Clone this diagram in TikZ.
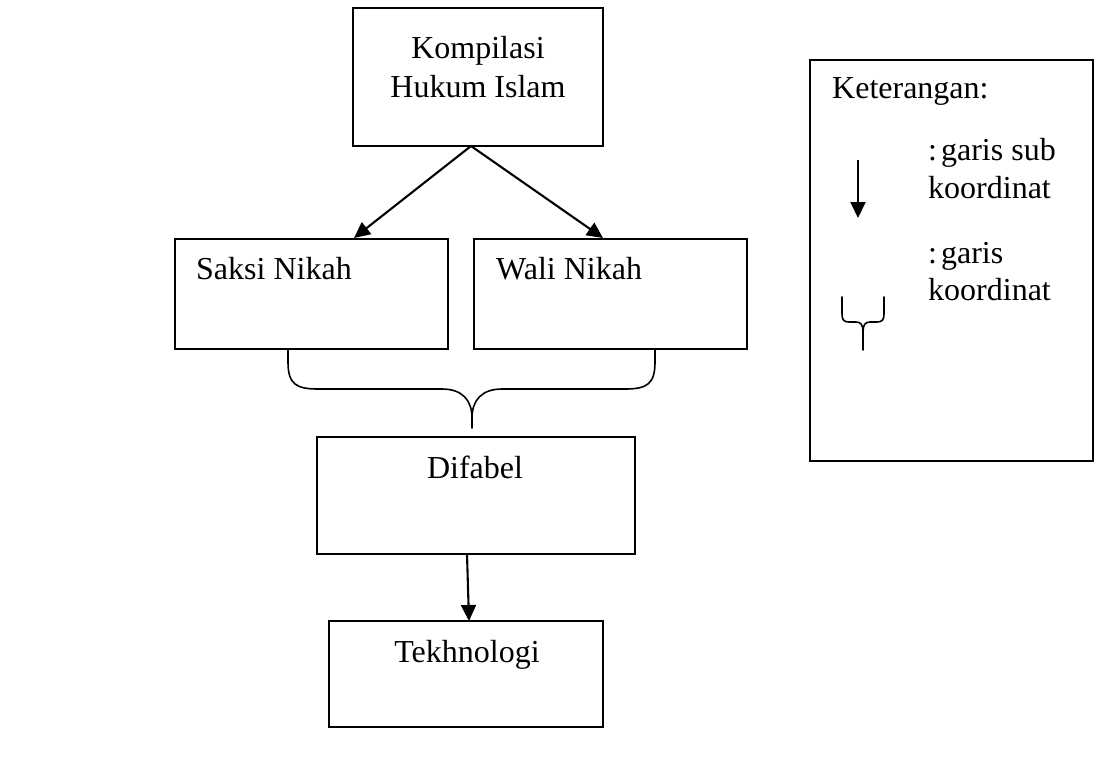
\documentclass[tikz,border=0pt]{standalone}
\usepackage{fontspec}
\setmainfont{Liberation Serif}
\usetikzlibrary{arrows.meta}
\tikzset{
  boxnode/.style={draw=black, line width=1.7pt, fill=white, inner sep=0pt},
  lbl/.style={inner sep=0pt, anchor=base west, font=\fontsize{32}{38}\selectfont},
  clbl/.style={inner sep=0pt, anchor=base, font=\fontsize{32}{38}\selectfont},
  arr/.style={line width=2.1pt, -{Triangle[length=16pt,width=15pt]}},
  bracepath/.style={line width=1.6pt, line cap=round}
}
\begin{document}
\begin{tikzpicture}[x=1pt,y=-1pt]
\useasboundingbox (0,0) rectangle (1098,760);
\fill[white] (0,0) rectangle (1098,760);

% boxes
\node[boxnode, minimum width=250pt, minimum height=138pt] (kom) at (478,77) {};
\node[boxnode, minimum width=273pt, minimum height=110pt] (saksi) at (311.5,294) {};
\node[boxnode, minimum width=273pt, minimum height=110pt] (wali) at (610.5,294) {};
\node[boxnode, minimum width=318pt, minimum height=117pt] (dif) at (476,495.5) {};
\node[boxnode, minimum width=274pt, minimum height=106pt] (tek) at (466,674) {};
\node[boxnode, minimum width=283pt, minimum height=401pt] (leg) at (951.5,260.5) {};

% texts
\node[clbl] (t1) at (478,59) {Kompilasi};
\node[clbl] (t2) at (478,98) {Hukum Islam};
\node[lbl] (t3) at (196,279) {Saksi Nikah};
\node[lbl] (t4) at (496,279) {Wali Nikah};
\node[clbl] (t5) at (475,478) {Difabel};
\node[clbl] (t6) at (467,662) {Tekhnologi};
\node[lbl] (t7) at (832,99) {Keterangan:};
\node[lbl] (t8) at (928,160) {:\hspace{4pt}garis sub};
\node[lbl] (t9) at (928,198) {koordinat};
\node[lbl] (t10) at (928,263) {:\hspace{4pt}garis};
\node[lbl] (t11) at (928,300) {koordinat};

% connectors
\coordinate (kj) at (471,146);
\coordinate (sk) at (354,238);
\coordinate (wk) at (603,238);
\draw[arr] (kj) -- (sk);
\draw[arr] (kj) -- (wk);
\coordinate (ds) at (467,554);
\coordinate (tn) at (469,621);
\draw[arr] (ds) -- (tn);

% main brace
\coordinate (bl) at (288,349);
\coordinate (br) at (655,349);
\coordinate (bt) at (472,428);
\draw[bracepath] (bl) -- (288,362) .. controls (288,384) and (296,389) .. (318,389)
  -- (442,389) .. controls (462,389) and (472,400) .. (472,418) -- (bt);
\draw[bracepath] (br) -- (655,362) .. controls (655,384) and (647,389) .. (625,389)
  -- (502,389) .. controls (482,389) and (472,400) .. (472,418);

% legend arrow
\coordinate (la1) at (858,160);
\coordinate (la2) at (858,218);
\draw[arr] (la1) -- (la2);

% legend brace
\coordinate (lbl1) at (842,297);
\coordinate (lbr1) at (884,297);
\coordinate (lbt) at (863,350);
\draw[bracepath] (lbl1) -- (842,314) .. controls (842,320) and (844,322) .. (849,322)
  -- (856,322) .. controls (861,322) and (863,325) .. (863,332) -- (lbt);
\draw[bracepath] (lbr1) -- (884,314) .. controls (884,320) and (882,322) .. (877,322)
  -- (870,322) .. controls (865,322) and (863,325) .. (863,332);
\end{tikzpicture}
\end{document}
